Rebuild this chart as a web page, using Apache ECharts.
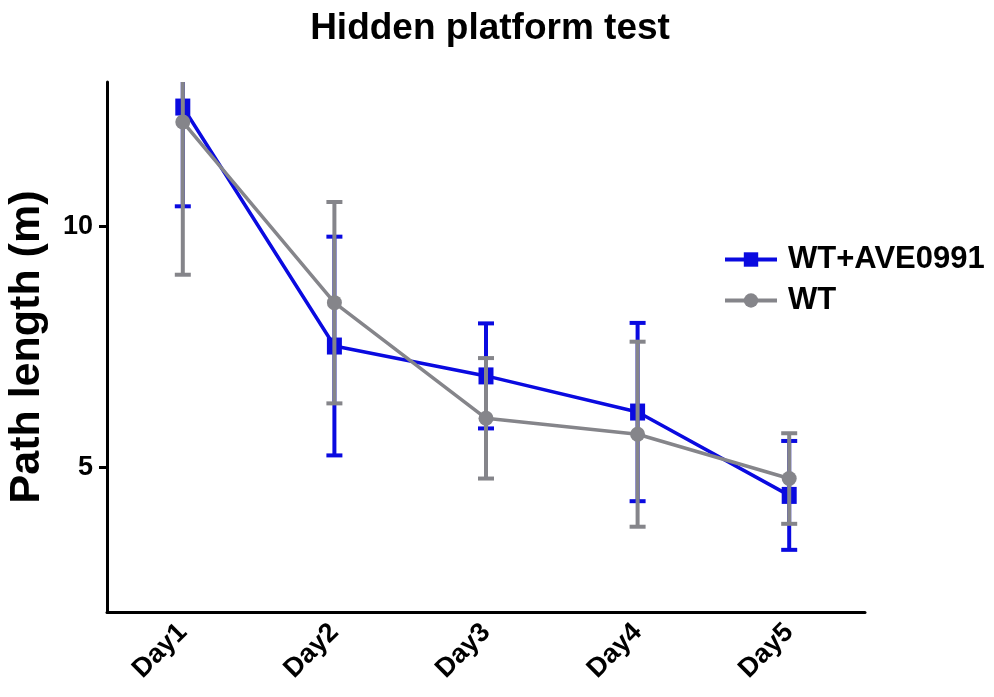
<!DOCTYPE html>
<html>
<head>
<meta charset="utf-8">
<script src="https://cdn.jsdelivr.net/npm/echarts@6/dist/echarts.min.js"></script>
<style>html,body{margin:0;padding:0;background:#fff;}#c{width:994px;height:697px;}</style>
</head>
<body>
<div id="c"></div>
<script>
const categories = ['Day1', 'Day2', 'Day3', 'Day4', 'Day5'];
const aveMean = [12.48, 7.52, 6.90, 6.15, 4.42];
const aveErr  = [2.06, 2.27, 1.09, 1.85, 1.13];
const wtMean  = [12.17, 8.42, 6.02, 5.69, 4.77];
const wtErr   = [3.17, 2.09, 1.25, 1.92, 0.94];
const yTicks  = [5, 10];

const BLUE = '#0a0ae0';
const GRAY = '#85858a';
const FONT = 'Liberation Sans, Arial, sans-serif';

function errData(mean, err) {
  return mean.map((m, i) => [i, m - err[i], m + err[i]]);
}
function errSeries(name, mean, err, color, z) {
  return {
    type: 'custom',
    name: name,
    z: z,
    clip: true,
    silent: true,
    data: errData(mean, err),
    encode: { x: 0, y: [1, 2] },
    renderItem: function (params, api) {
      const x = api.value(0);
      const lo = api.coord([x, api.value(1)]);
      const hi = api.coord([x, api.value(2)]);
      const hw = 8;
      const style = { stroke: color, lineWidth: 4, fill: null };
      return {
        type: 'group',
        children: [
          { type: 'line', shape: { x1: lo[0], y1: lo[1], x2: hi[0], y2: hi[1] }, style: style },
          { type: 'line', shape: { x1: lo[0] - hw, y1: lo[1], x2: lo[0] + hw, y2: lo[1] }, style: style },
          { type: 'line', shape: { x1: hi[0] - hw, y1: hi[1], x2: hi[0] + hw, y2: hi[1] }, style: style }
        ]
      };
    }
  };
}

const chart = echarts.init(document.getElementById('c'), null, { renderer: 'canvas' });
chart.setOption({
  animation: false,
  backgroundColor: '#ffffff',
  title: {
    text: 'Hidden platform test',
    left: 485,
    textAlign: 'center',
    top: 5,
    textStyle: { fontFamily: FONT, fontWeight: 'bold', fontSize: 37, color: '#000' }
  },
  legend: {
    orient: 'vertical',
    left: 718,
    top: 239,
    itemWidth: 52,
    itemHeight: 18,
    itemGap: 10,
    data: ['WT+AVE0991', 'WT'],
    lineStyle: { width: 4 },
    textStyle: { fontFamily: FONT, fontWeight: 'bold', fontSize: 31, color: '#000', padding: [0, 0, 0, 6] }
  },
  grid: { left: 107, top: 82, width: 758, height: 530, containLabel: false, outerBoundsMode: 'none' },
  xAxis: {
    type: 'category',
    data: categories,
    boundaryGap: true,
    axisLine: { lineStyle: { color: '#000', width: 3 } },
    axisTick: { alignWithLabel: true, length: 8, lineStyle: { color: '#000', width: 3 } },
    axisLabel: { rotate: 45, margin: 16, fontFamily: FONT, fontWeight: 'bold', fontSize: 27, color: '#000' }
  },
  yAxis: {
    type: 'value',
    min: 2,
    max: 13,
    name: 'Path length (m)',
    nameLocation: 'middle',
    nameGap: 58,
    nameTextStyle: { fontFamily: FONT, fontWeight: 'bold', fontSize: 43, color: '#000' },
    splitLine: { show: false },
    axisLine: { show: true, lineStyle: { color: '#000', width: 3 } },
    axisTick: { show: true, length: 8, customValues: yTicks, lineStyle: { color: '#000', width: 3 } },
    axisLabel: { customValues: yTicks, margin: 14, fontFamily: FONT, fontWeight: 'bold', fontSize: 27, color: '#000' }
  },
  series: [
    errSeries('errAve', aveMean, aveErr, BLUE, 1),
    {
      type: 'line',
      name: 'WT+AVE0991',
      z: 2,
      data: aveMean,
      symbol: 'rect',
      symbolSize: [15, 17],
      itemStyle: { color: BLUE },
      lineStyle: { color: BLUE, width: 3.5 }
    },
    errSeries('errWt', wtMean, wtErr, GRAY, 3),
    {
      type: 'line',
      name: 'WT',
      z: 4,
      data: wtMean,
      symbol: 'circle',
      symbolSize: 15,
      itemStyle: { color: GRAY },
      lineStyle: { color: GRAY, width: 3.5 }
    }
  ]
});
</script>
</body>
</html>
